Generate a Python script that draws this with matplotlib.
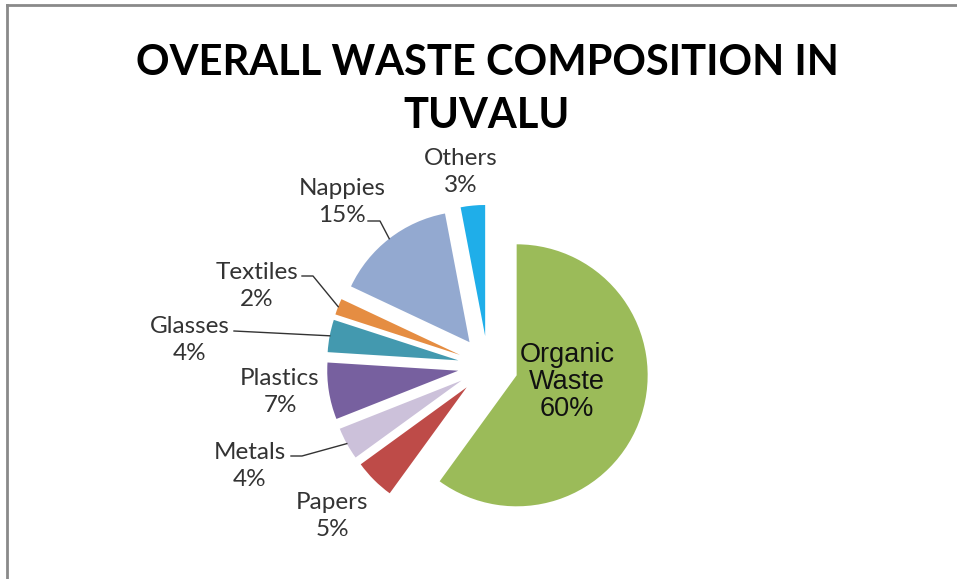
import matplotlib
matplotlib.use('Agg')
import matplotlib.pyplot as plt
import numpy as np

# waste composition (%), drawn clockwise from 12 o'clock
categories = ['Organic\nWaste', 'Papers', 'Metals', 'Plastics', 'Glasses', 'Textiles', 'Nappies', 'Others']
shares = [60, 5, 4, 7, 4, 2, 15, 3]
colors = ['#9BBB59', '#BE4B48', '#CCC1DA', '#77609F', '#4399AF', '#E58D42', '#93A9D0', '#1FAEE9']

W, H = 957, 579
CX, CY, R = 488, 366, 131   # pie centre and radius in pixels


def px(x, y):
    # image pixel -> data units (radius 1)
    return (x - CX) / R, (CY - y) / R


fig = plt.figure(figsize=(W / 100, H / 100), dpi=100)
ax = fig.add_axes([0, 0, 1, 1])

wedges, _ = ax.pie(shares, colors=colors, startangle=90, counterclock=False,
                   explode=[0.23] * len(shares), radius=1,
                   wedgeprops=dict(linewidth=0))
ax.set_xlim(-CX / R, (W - CX) / R)
ax.set_ylim(-(H - CY) / R, CY / R)
ax.set_aspect('equal')
ax.axis('off')

# label text centres (pixels) and leader line starts
label_pos = {
    'Organic\nWaste': (567, 382),
    'Papers': (332, 516),
    'Metals': (250, 466),
    'Plastics': (280, 392),
    'Glasses': (190, 340),
    'Textiles': (257, 286),
    'Nappies': (342, 202),
    'Others': (461, 172),
}
leaders = {
    'Metals': [(291, 456), (302, 456)],
    'Glasses': [(234, 331)],
    'Textiles': [(302, 276), (313, 276)],
    'Nappies': [(368, 221), (380, 221)],
}

for w, name, val in zip(wedges, categories, shares):
    x, y = px(*label_pos[name])
    if name.startswith('Organic'):
        ax.text(x, y, f'{name}\n{val}%', ha='center', va='center', fontsize=19.5,
                family='Liberation Sans', color='#111111', linespacing=1.05)
        continue
    ax.text(x, y, f'{name}\n{val}%', ha='center', va='center', fontsize=17.5,
            family='Lato', color='#333333', linespacing=1.3)
    if name in leaders:
        # line ends on the outer arc of the wedge, at its middle angle
        mid = np.deg2rad((w.theta1 + w.theta2) / 2)
        cx, cy = w.center
        end = (cx + w.r * np.cos(mid), cy + w.r * np.sin(mid))
        pts = [px(*p) for p in leaders[name]] + [end]
        xs, ys = zip(*pts)
        ax.plot(xs, ys, color='#333333', lw=1)

fig.text(487 / W, 1 - 75 / H, 'OVERALL WASTE COMPOSITION IN', ha='center', va='baseline',
         fontsize=30, fontweight='bold', family='Lato', color='black')
fig.text(487 / W, 1 - 128 / H, 'TUVALU', ha='center', va='baseline',
         fontsize=30, fontweight='bold', family='Lato', color='black')

# chart area border (top and left edges)
fig.add_artist(plt.Line2D([6.5 / W, 6.5 / W], [0, 1 - 4.5 / H], color='#8a8a8a', lw=2))
fig.add_artist(plt.Line2D([6.5 / W, 1], [1 - 4.5 / H, 1 - 4.5 / H], color='#8a8a8a', lw=2))

fig.savefig('out.png', dpi=100)
